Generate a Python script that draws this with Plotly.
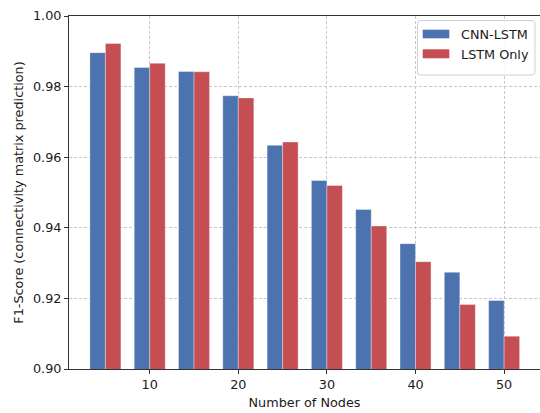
import plotly.graph_objects as go

nodes = [5, 10, 15, 20, 25, 30, 35, 40, 45, 50]
cnn_lstm = [0.9896, 0.9854, 0.9843, 0.9774, 0.9634, 0.9534, 0.9452, 0.9355, 0.9274, 0.9194]
lstm_only = [0.9922, 0.9866, 0.9842, 0.9768, 0.9643, 0.9520, 0.9405, 0.9304, 0.9183, 0.9093]
x_ticks = [10, 20, 30, 40, 50]
y_ticks = [0.90, 0.92, 0.94, 0.96, 0.98, 1.00]

BLUE = "#4C72B0"
RED = "#C44E52"
FONT = "DejaVu Sans"
FS = 12.8
TXT = "#1a1a1a"

W, H = 540, 413
ML, MR, MT, MB = 69, 0, 16, 44
PW, PH = W - ML - MR, H - MT - MB


def px_x(p):
    return (p - ML) / PW


def px_y(p):
    return (H - MB - p) / PH


def rounded_rect_path(x0, y0, x1, y1, r):
    # pixel coordinates (top-left origin) -> paper-coordinate SVG path
    pts = []
    X = lambda v: f"{px_x(v):.5f}"
    Y = lambda v: f"{px_y(v):.5f}"
    pts.append(f"M{X(x0 + r)},{Y(y0)}")
    pts.append(f"L{X(x1 - r)},{Y(y0)}")
    pts.append(f"Q{X(x1)},{Y(y0)} {X(x1)},{Y(y0 + r)}")
    pts.append(f"L{X(x1)},{Y(y1 - r)}")
    pts.append(f"Q{X(x1)},{Y(y1)} {X(x1 - r)},{Y(y1)}")
    pts.append(f"L{X(x0 + r)},{Y(y1)}")
    pts.append(f"Q{X(x0)},{Y(y1)} {X(x0)},{Y(y1 - r)}")
    pts.append(f"L{X(x0)},{Y(y0 + r)}")
    pts.append(f"Q{X(x0)},{Y(y0)} {X(x0 + r)},{Y(y0)}Z")
    return " ".join(pts)


fig = go.Figure()
fig.add_trace(go.Bar(x=nodes, y=cnn_lstm, name="CNN-LSTM", marker_color=BLUE,
                     marker_line=dict(color="rgba(255,255,255,0.6)", width=0.6),
                     showlegend=False))
fig.add_trace(go.Bar(x=nodes, y=lstm_only, name="LSTM Only", marker_color=RED,
                     marker_line=dict(color="rgba(255,255,255,0.6)", width=0.6),
                     showlegend=False))

axis_common = dict(
    showline=True, linecolor="#333333", linewidth=1,
    ticks="outside", ticklen=4, tickwidth=1, tickcolor="#333333",
    showgrid=True, gridcolor="#c8c8c8", gridwidth=0.7, griddash="3px,2px",
    tickfont=dict(family=FONT, size=FS, color=TXT),
    zeroline=False,
)

fig.update_xaxes(**axis_common, tickvals=x_ticks, range=[0.89, 54.05],
                 mirror=True,
                 title=dict(text="Number of Nodes", font=dict(family=FONT, size=FS, color=TXT),
                            standoff=6))
fig.update_yaxes(**axis_common, tickvals=y_ticks, tickformat=".2f", range=[0.90, 1.00],
                 title=dict(text="F1-Score (connectivity matrix prediction)",
                            font=dict(family=FONT, size=FS, color=TXT), standoff=6))

# legend box
shapes = [
    dict(type="path", xref="paper", yref="paper",
         path=rounded_rect_path(417.5, 20.5, 535, 75, 3),
         line=dict(color="#d0d0d0", width=1), fillcolor="rgba(255,255,255,0.85)", layer="above"),
]
legend_items = [("CNN-LSTM", BLUE, 29.7, 38.3, 34), ("LSTM Only", RED, 49.3, 58.3, 54)]
annotations = []
for name, col, top, bot, mid in legend_items:
    shapes.append(dict(type="rect", xref="paper", yref="paper",
                       x0=px_x(422.7), x1=px_x(449.3), y0=px_y(bot), y1=px_y(top),
                       line=dict(width=0), fillcolor=col, layer="above"))
    annotations.append(dict(text=name, xref="paper", yref="paper", x=px_x(459), y=px_y(mid),
                            xanchor="left", yanchor="middle", showarrow=False,
                            font=dict(family=FONT, size=FS, color=TXT)))

fig.update_layout(
    width=W, height=H,
    margin=dict(l=ML, r=MR, t=MT, b=MB),
    barmode="group", bargap=0.3, bargroupgap=0,
    plot_bgcolor="white", paper_bgcolor="white",
    shapes=shapes, annotations=annotations,
    font=dict(family=FONT),
)

fig.write_html("out.html")
